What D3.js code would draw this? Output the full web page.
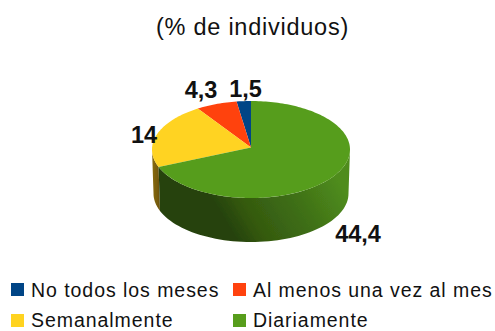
<!DOCTYPE html>
<html><head><meta charset="utf-8">
<script src="https://cdnjs.cloudflare.com/ajax/libs/d3/7.8.5/d3.min.js"></script>
<style>html,body{margin:0;padding:0;background:#fff}svg{display:block;font-family:"Liberation Sans",Arial,sans-serif}</style>
</head><body>
<svg id="c" width="495" height="331"></svg>
<script>
const categories = ["No todos los meses","Al menos una vez al mes","Semanalmente","Diariamente"];
const values = [1.5,4.3,14,44.4];
const labels = ["1,5","4,3","14","44,4"];
const colors = ["#004586","#ff420e","#ffd320","#579d1c"];
const title = "(% de individuos)";

const svg = d3.select("#c");
const cx=251, cy=149.5, apexY=147.5, rx=99, ry=48.5, depth=44, rxBottom=97.5;
const defs = svg.append("defs");
const gradG = defs.append("linearGradient").attr("id","sideG").attr("gradientUnits","userSpaceOnUse")
  .attr("x1",200).attr("y1",245).attr("x2",330).attr("y2",167);
[[0,"#25420a"],[0.23,"#264309"],[0.38,"#34590f"],[0.7,"#3f7017"],[1,"#4f8c1c"]]
 .forEach(s=>gradG.append("stop").attr("offset",s[0]).attr("stop-color",s[1]));
const gradY = defs.append("linearGradient").attr("id","sideY").attr("x1",0).attr("x2",1).attr("y1",0).attr("y2",0);
[[0,"#8a6d10"],[1,"#6b5208"]].forEach(s=>gradY.append("stop").attr("offset",s[0]).attr("stop-color",s[1]));
const blur = defs.append("filter").attr("id","soft").attr("x","-5%").attr("y","-5%").attr("width","110%").attr("height","110%");
blur.append("feGaussianBlur").attr("stdDeviation",0.4);

const pie = d3.pie().sort(null).value(d=>d).startAngle(0).endAngle(-2*Math.PI);
const arcs = pie(values);
const px = a=>cx+rx*Math.sin(a), py = a=>cy-ry*Math.cos(a);
const pxB = a=>cx+rxBottom*Math.sin(a);
const line=d3.line().x(d=>d[0]).y(d=>d[1]);
const g = svg.append("g").attr("filter","url(#soft)");

function wall(a0,a1){
  const lo=-3*Math.PI/2, hi=-Math.PI/2;
  const s=Math.max(Math.min(a0,a1),lo), e=Math.min(Math.max(a0,a1),hi);
  if(e<=s) return null;
  const steps=d3.range(0,61).map(i=>s+(e-s)*i/60);
  return line(steps.map(a=>[px(a),py(a)]).concat(steps.slice().reverse().map(a=>[pxB(a),py(a)+depth])))+"Z";
}
const wallData=[
 {d:wall(arcs[2].startAngle,arcs[2].endAngle),f:"url(#sideY)"},
 {d:wall(arcs[3].startAngle,arcs[3].endAngle),f:"url(#sideG)"}
];
g.selectAll("path.wall").data(wallData).join("path").attr("class","wall").attr("d",d=>d.d).attr("fill",d=>d.f);

// top face: wedges meet at the apex, slightly above the ellipse centre (perspective)
function wedge(d){
  const n=Math.max(4,Math.ceil(Math.abs(d.endAngle-d.startAngle)*40));
  const pts=d3.range(0,n+1).map(i=>{const a=d.startAngle+(d.endAngle-d.startAngle)*i/n;return [px(a),py(a)];});
  return line([[cx,apexY]].concat(pts))+"Z";
}
g.selectAll("path.top").data(arcs).join("path").attr("class","top")
 .attr("d",wedge).attr("fill",(d,i)=>colors[i]);

svg.append("text").attr("x",252.5).attr("y",35).attr("text-anchor","middle")
 .attr("font-size",23.5).attr("fill","#111").attr("letter-spacing",0.75).text(title);

const labelX=[245.5,201,144,358], labelY=[96.7,97.7,143,242];
svg.selectAll("text.dl").data(labels).join("text").attr("class","dl")
 .attr("x",(d,i)=>labelX[i]).attr("y",(d,i)=>labelY[i]).attr("text-anchor","middle")
 .attr("font-size",23.5).attr("font-weight","bold").attr("fill","#111").text(d=>d);

const legX=[11,233,11,233], legY=[283,283,314,314], legBase=[297,297,327,327];
const leg=svg.selectAll("g.leg").data(categories).join("g").attr("class","leg");
leg.append("rect").attr("x",(d,i)=>legX[i]).attr("y",(d,i)=>legY[i]).attr("width",13).attr("height",13).attr("fill",(d,i)=>colors[i]);
leg.append("text").attr("x",(d,i)=>legX[i]+20).attr("y",(d,i)=>legBase[i]).attr("font-size",19.5).attr("letter-spacing",0.95).attr("fill","#111").text(d=>d);
</script>
</body></html>
